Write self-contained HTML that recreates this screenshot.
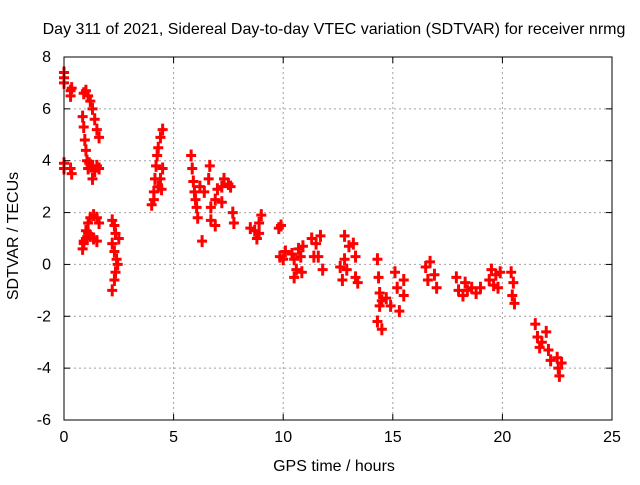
<!DOCTYPE html>
<html><head><meta charset="utf-8"><style>
body{margin:0;background:#fff}
svg text{font-family:"Liberation Sans",sans-serif;font-size:16px;fill:#000}
</style></head><body>
<svg id="chart" width="640" height="480">
<rect width="640" height="480" fill="#fff"/>
<g id="grid"></g><g id="pts"></g><g id="axes"></g>
<text x="334" y="34" text-anchor="middle">Day 311 of 2021, Sidereal Day-to-day VTEC variation (SDTVAR) for receiver nrmg</text>
<text x="334" y="471" text-anchor="middle">GPS time / hours</text>
<text transform="translate(18,236) rotate(-90)" text-anchor="middle">SDTVAR / TECUs</text>
</svg>
<script>
const xTicks=[0,5,10,15,20,25];
const yTicks=[-6,-4,-2,0,2,4,6,8];
const times=[0,0,0,0,0,0.3,0.3,0.35,0.3,0.35,
0.9,1.0,1.1,1.2,1.3,1.4,1.5,1.6,
0.85,0.9,0.95,1.0,1.05,1.1,1.15,1.3,1.4,1.5,1.6,1.3,
0.85,0.9,1.0,1.1,1.2,1.35,1.5,1.6,0.9,1.0,1.1,1.2,1.35,1.5,
2.2,2.3,2.35,2.5,2.2,2.3,2.4,2.45,2.35,2.3,2.2,
4.0,4.1,4.15,4.2,4.25,4.3,4.4,4.5,4.1,4.3,4.4,4.5,4.45,
5.8,5.85,5.9,5.95,6.0,6.05,6.1,6.2,6.4,6.3,
6.6,6.65,6.7,6.7,6.9,6.9,7.0,7.2,7.2,7.3,7.5,7.6,7.7,7.75,
8.5,8.7,8.8,8.9,9.0,8.9,
9.8,9.9,9.85,10.0,10.1,
10.4,10.5,10.6,10.7,10.8,10.85,10.5,10.9,
11.3,11.5,11.4,11.6,11.7,11.8,
12.6,12.7,12.8,12.9,13.2,13.3,13.3,13.4,12.8,13.0,
14.3,14.35,14.4,14.5,14.4,14.3,14.5,14.7,14.9,
15.1,15.2,15.3,15.5,15.5,
16.5,16.6,16.9,17.0,16.7,
17.9,18.0,18.2,18.4,18.6,18.8,19.0,18.3,
19.4,19.5,19.7,19.8,19.6,19.9,
20.4,20.5,20.45,20.55,
21.5,21.6,21.7,21.8,22.0,22.1,22.2,22.5,22.55,22.6,22.7];
const values=[7.4,7.2,7.0,3.9,3.7,6.7,6.5,6.8,3.7,3.5,
6.6,6.7,6.5,6.3,6.0,5.6,5.2,4.9,
5.7,5.3,4.8,4.4,4.0,3.7,3.9,3.8,3.6,3.8,3.7,3.3,
0.6,0.9,1.3,1.6,1.8,1.9,1.8,1.6,0.8,1.0,1.2,1.1,1.0,0.9,
1.7,1.5,1.2,1.0,0.8,0.5,0.2,0,-0.3,-0.6,-1.0,
2.3,2.8,3.3,3.8,4.2,4.5,4.9,5.2,2.5,3.0,3.3,3.7,2.9,
4.2,3.7,3.2,2.8,2.5,2.2,1.8,3.0,2.8,0.9,
3.3,3.8,2.2,1.7,2.5,1.5,2.9,2.4,3.0,3.3,3.1,3.0,2.0,1.6,
1.4,1.3,1.0,1.6,1.9,1.2,
1.4,1.5,0.3,0.2,0.5,
0.4,0.2,-0.2,0.6,0.3,-0.3,-0.5,0.7,
1.0,0.8,0.3,0.3,1.1,-0.2,
-0.1,-0.6,0.2,-0.2,0.8,0.3,-0.5,-0.7,1.1,0.7,
0.2,-0.5,-1.1,-1.4,-1.6,-2.2,-2.5,-1.3,-1.6,
-0.3,-0.9,-1.8,-1.2,-0.6,
-0.1,-0.6,-0.4,-0.9,0.1,
-0.5,-1.0,-1.2,-1.0,-0.9,-1.1,-0.9,-0.7,
-0.6,-0.2,-0.4,-0.9,-0.8,-0.3,
-0.3,-0.7,-1.2,-1.5,
-2.3,-2.8,-3.2,-3.0,-2.6,-3.3,-3.7,-3.6,-4.0,-4.3,-3.8];
const X0=64,X1=612,Y0=420,Y1=57;
const sx=t=>X0+(t-0)/(25-0)*(X1-X0);
const sy=v=>Y0-(v+6)/14*(Y0-Y1);
const NS='http://www.w3.org/2000/svg';
function mk(tag,at,parent){const e=document.createElementNS(NS,tag);for(const k in at)e.setAttribute(k,at[k]);parent.appendChild(e);return e;}
const grid=document.getElementById('grid'),axes=document.getElementById('axes'),pts=document.getElementById('pts');
xTicks.forEach(t=>{const x=sx(t);
 if(t>0&&t<25){const l=mk('line',{x1:x,x2:x,y1:Y1,y2:Y0,stroke:'#a0a0a0','stroke-dasharray':'2,3'},grid);
 
 }
 mk('line',{x1:x,x2:x,y1:Y0,y2:Y0-6,stroke:'#000'},axes);mk('line',{x1:x,x2:x,y1:Y1,y2:Y1+6,stroke:'#000'},axes);
 const tx=mk('text',{x:x,y:Y0+22,'text-anchor':'middle'},axes);tx.textContent=t;
 
 });
yTicks.forEach(v=>{const y=sy(v);
 if(v>-6&&v<8){const l=mk('line',{x1:X0,x2:X1,y1:y,y2:y,stroke:'#a0a0a0','stroke-dasharray':'2,3'},grid);
 
 }
 mk('line',{x1:X0,x2:X0+6,y1:y,y2:y,stroke:'#000'},axes);mk('line',{x1:X1,x2:X1-6,y1:y,y2:y,stroke:'#000'},axes);
 const tx=mk('text',{x:X0-13,y:y+5,'text-anchor':'end'},axes);tx.textContent=v;
 
 });
const fr=mk('rect',{x:X0,y:Y1,width:X1-X0,height:Y0-Y1,fill:'none',stroke:'#000'},axes);


times.forEach((t,i)=>{const x=sx(t),y=sy(values[i]);
 const p=mk('path',{d:`M${x-5},${y}H${x+5}M${x},${y-6}V${y+6}`,stroke:'#f00','stroke-width':3},pts);
 
 });
</script>
</body></html>
